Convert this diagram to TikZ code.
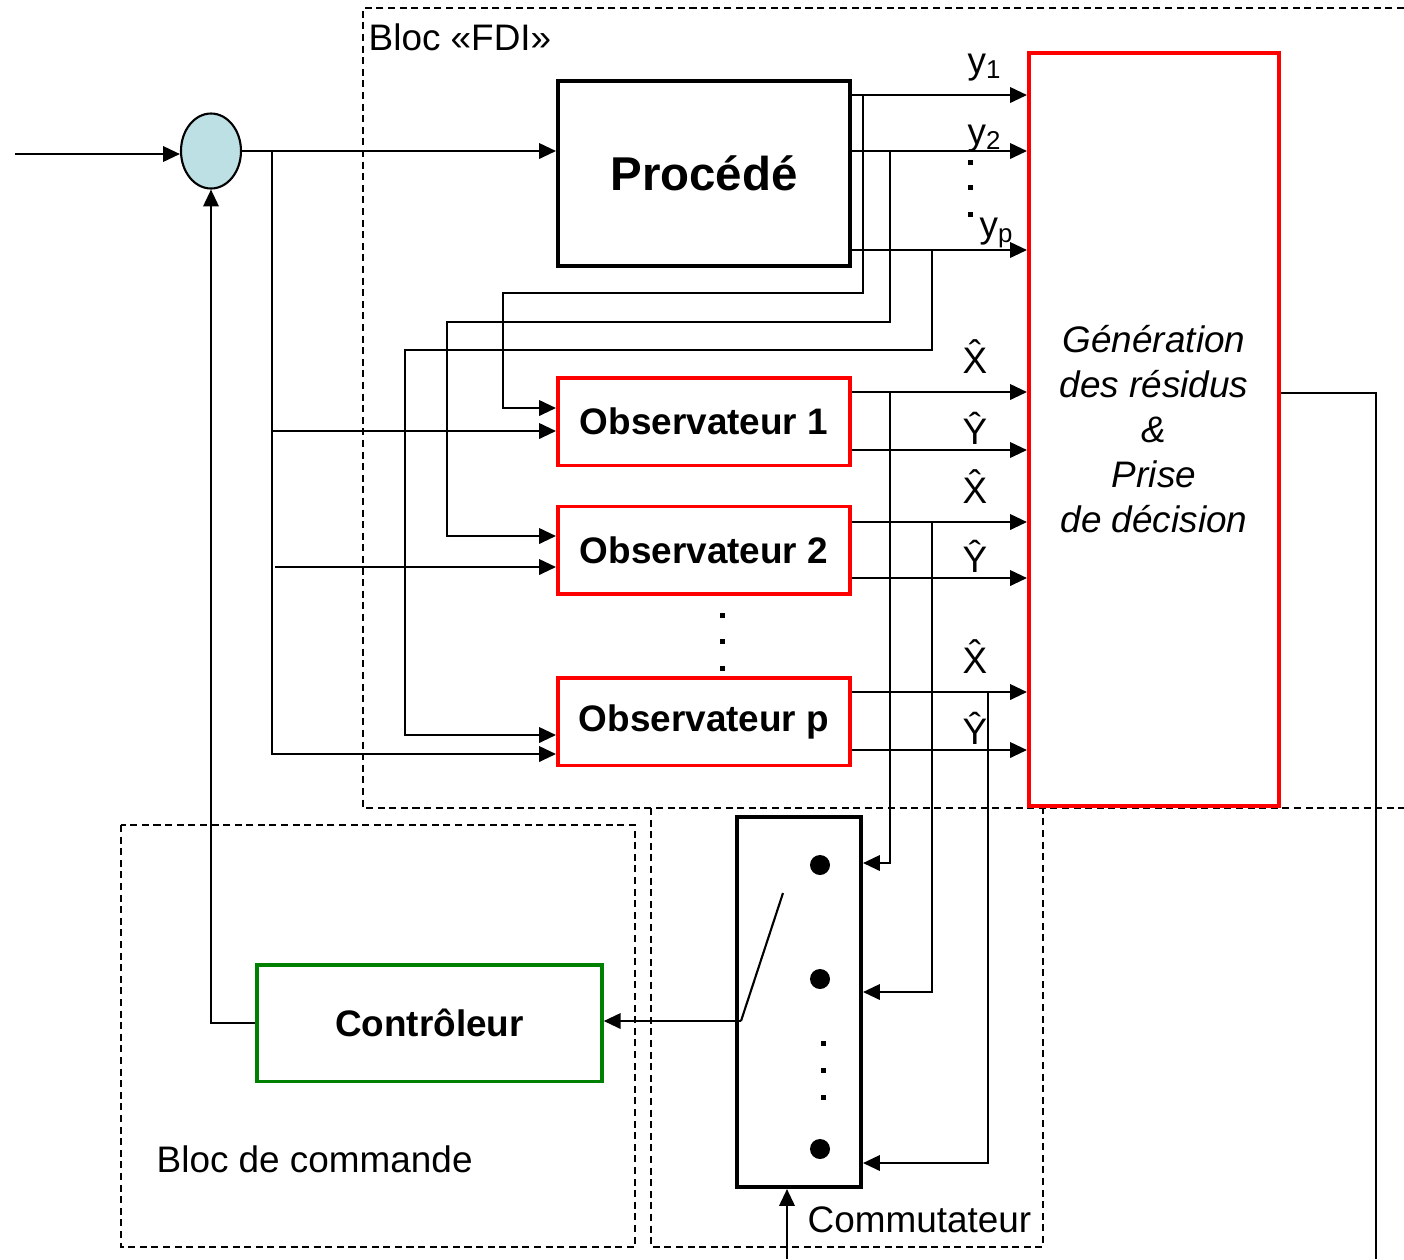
\documentclass[tikz,border=0pt]{standalone}
\usepackage{fontspec}
\setmainfont{Liberation Sans}
\usepackage{tikz}
\usetikzlibrary{shapes,arrows.meta,positioning,calc}
\definecolor{bleuclair}{RGB}{189,224,228}
\definecolor{vertfonce}{RGB}{0,128,0}

\begin{document}
\begin{tikzpicture}[x=0.1mm,y=-0.1mm,
    >={Triangle[length=4.8pt,width=4.4pt]},
    lien/.style={line width=0.6pt},
    txt/.style={font=\fontsize{10.5}{12.8}\selectfont,inner sep=0pt},
    obs/.style={draw=red,line width=1pt,minimum width=2.925cm,minimum height=0.875cm,
      inner sep=0pt,font=\fontsize{10.5}{12.8}\selectfont\bfseries},
    zone/.style={line width=0.45pt,dash pattern=on 2pt off 1.3pt}]
  \useasboundingbox (0,0) rectangle (1404,1259);
  % Dashed blocks
  \draw[zone] (1404,8) -- (363,8) -- (363,808) -- (1404,808);
  \draw[zone] (121,825) rectangle (635,1247);
  \draw[zone] (651,808) -- (651,1247) -- (1043,1247) -- (1043,808);
  \node[txt,anchor=base west] at (368,50) {Bloc «FDI»};
  \node[txt,anchor=base west] at (156,1172) {Bloc de commande};
  \node[txt,anchor=base west] at (807,1232) {Commutateur};
  % Blocks
  \node[ellipse,draw,fill=bleuclair,line width=0.6pt,minimum width=0.6cm,minimum height=0.75cm,inner sep=0pt] (sum) at (211,151) {};
  \node[draw,line width=1.15pt,minimum width=2.92cm,minimum height=1.85cm,inner sep=0pt,
    font=\fontsize{13.5}{16}\selectfont\bfseries] (proc) at (704,173.5) {Procédé};
  \node[obs] (obs1) at (704,421.5) {Observateur 1};
  \node[obs] (obs2) at (704,550) {Observateur 2};
  \node[obs] (obsp) at (704,721.5) {Observateur p};
  \node[draw=red,line width=1.15pt,minimum width=2.5cm,minimum height=7.53cm,inner sep=0pt,
    align=center,font=\fontsize{10.5}{12.8}\selectfont\itshape] (gen) at (1154,429.5)
    {Génération\\des résidus\\\&\\Prise\\de décision};
  \node[draw,line width=1.15pt,minimum width=1.24cm,minimum height=3.7cm,inner sep=0pt] (comm) at (799,1002) {};
  \node[draw=vertfonce,line width=1pt,minimum width=3.45cm,minimum height=1.165cm,inner sep=0pt,
    font=\fontsize{10.5}{12.8}\selectfont\bfseries] (ctrl) at (429.5,1023) {Contrôleur};
  % Dots
  \foreach \yy in {162,187,214} \fill (968,\yy-2.5) rectangle ++(5,5);
  \foreach \yy in {615,641,668} \fill (719.5,\yy-2.5) rectangle ++(5,5);
  \foreach \yy in {1043,1070,1097} \fill (820.5,\yy-2.5) rectangle ++(5,5);
  \foreach \yy in {865,979,1149} \fill (820,\yy) circle (1mm);
  % Input and feedback loop
  \coordinate (in) at (15,154);
  \coordinate (b0) at (272,151);
  \draw[lien,->] (in) -- (in -| sum.west);
  \draw[lien,->] (sum.east) -- (proc.west |- sum.east);
  \draw[lien,->] (b0) |- (obsp.west |- 0,754);
  \draw[lien,->] (272,431) -- (obs1.west |- 0,431);
  \draw[lien,->] (275,567) -- (obs2.west |- 0,567);
  \draw[lien,->] (ctrl.west) -| (sum.south);
  % Process outputs
  \draw[lien,->] (proc.east |- 0,95) -- (gen.west |- 0,95);
  \draw[lien,->] (proc.east |- 0,151) -- (gen.west |- 0,151);
  \draw[lien,->] (proc.east |- 0,250) -- (gen.west |- 0,250);
  \node[txt,anchor=base west] at (967,73) {y\textsubscript{1}};
  \node[txt,anchor=base west] at (967,144) {y\textsubscript{2}};
  \node[txt,anchor=base west] at (979,237) {y\textsubscript{p}};
  \draw[lien,->] (863,95) |- (503,293) |- (obs1.west |- 0,408);
  \draw[lien,->] (890,151) |- (447,322) |- (obs2.west |- 0,536);
  \draw[lien,->] (932,250) |- (405,350) |- (obsp.west |- 0,735);
  % Observer outputs
  \foreach \o/\xh/\yh in {obs1/392/450, obs2/522/578, obsp/692/750} {
    \draw[lien,->] (\o.east |- 0,\xh) -- (gen.west |- 0,\xh);
    \draw[lien,->] (\o.east |- 0,\yh) -- (gen.west |- 0,\yh);
    \node[txt,anchor=base] at (975,\xh-19) {\^{X}};
    \node[txt,anchor=base] at (975,\yh-6) {\^{Y}};
  }
  \draw[lien,->] (890,392) |- (comm.east |- 0,863);
  \draw[lien,->] (932,522) |- (comm.east |- 0,992);
  \draw[lien,->] (988,692) |- (comm.east |- 0,1163);
  % Switch
  \coordinate (pivot) at (741,1021);
  \coordinate (lame) at (783,893);
  \draw[lien] (pivot) -- (lame);
  \draw[lien,->] (pivot) -- (ctrl.east |- pivot);
  \draw[lien,->] (787,1259) -- (comm.south -| 787,0);
  % Decision output
  \draw[lien] (gen.east |- 0,393) -| (1376,1259);
\end{tikzpicture}
\end{document}
